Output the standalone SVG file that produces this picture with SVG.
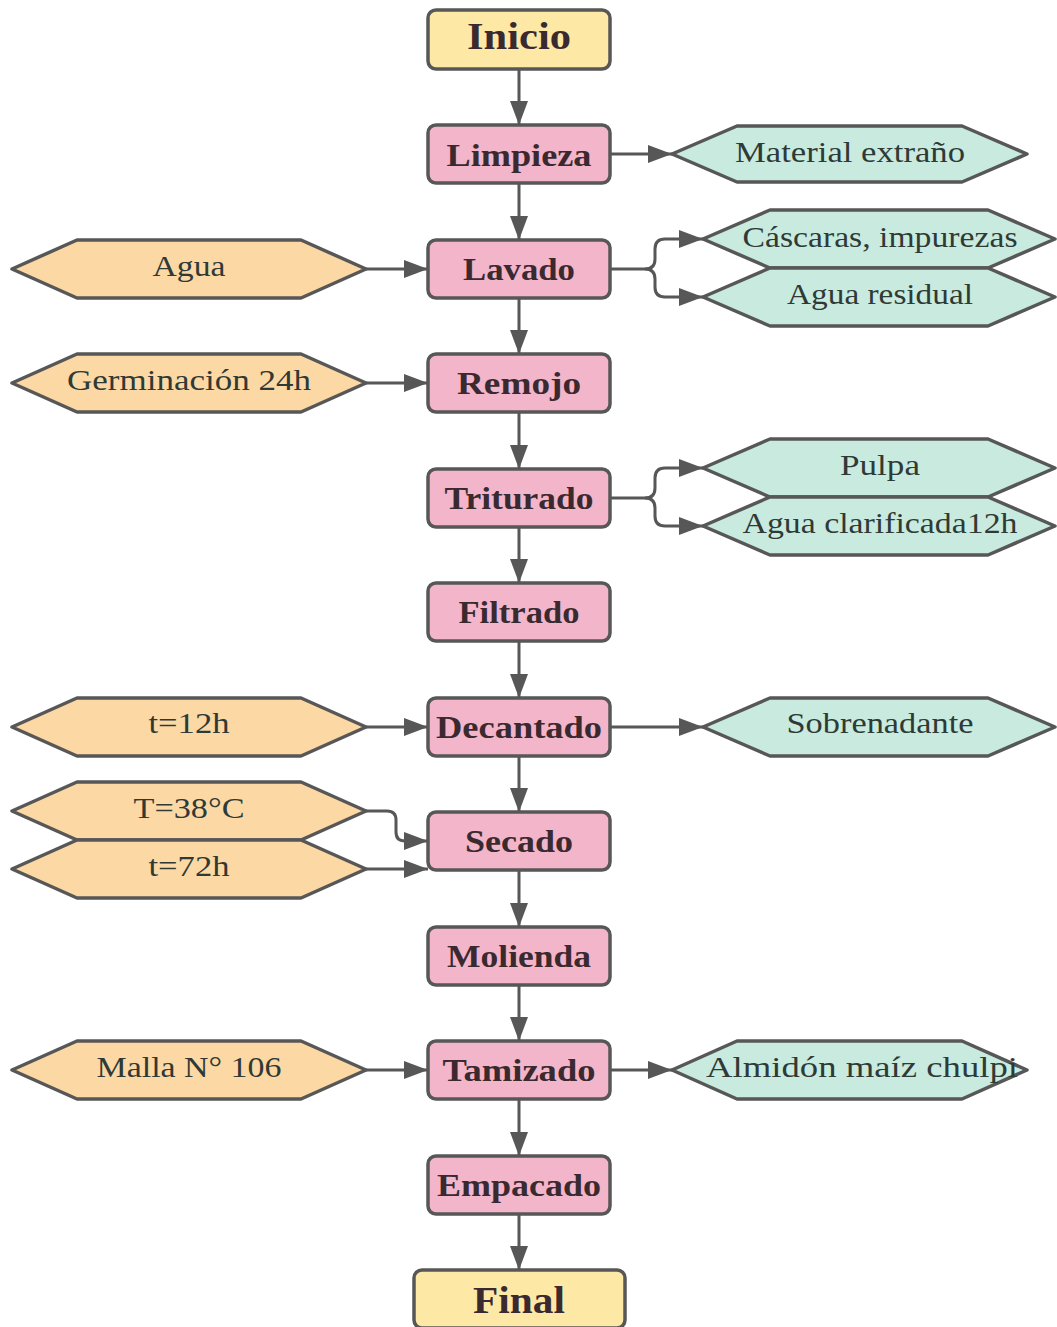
<svg xmlns="http://www.w3.org/2000/svg" width="1057" height="1327" viewBox="0 0 1057 1327">
<style>
.box{stroke:#575757;stroke-width:3.5}
.term{fill:#fde8a6}
.proc{fill:#f3b5c9}
.in{fill:#fcd8a4;stroke:#575757;stroke-width:3.5;stroke-linejoin:round}
.out{fill:#c8eadf;stroke:#575757;stroke-width:3.5;stroke-linejoin:round}
.bl{font-family:"Liberation Serif",serif;font-weight:bold;font-size:31px;fill:#3a2a30;text-anchor:middle}
.tl{font-family:"Liberation Serif",serif;font-weight:bold;font-size:37px;fill:#3a2a30;text-anchor:middle}
.rl{font-family:"Liberation Serif",serif;font-size:29px;fill:#2f3a36;text-anchor:middle}
.c{fill:none;stroke:#575757;stroke-width:3}
</style>
<defs>
<marker id="ah" markerUnits="userSpaceOnUse" markerWidth="24" markerHeight="18" refX="24" refY="9" orient="auto">
<path d="M0,0 L24,9 L0,18 z" fill="#575757"/>
</marker>
</defs>
<g id="connectors">
<path class="c" marker-end="url(#ah)" d="M519,69 V125"/>
<path class="c" marker-end="url(#ah)" d="M519,183 V240"/>
<path class="c" marker-end="url(#ah)" d="M519,298 V354"/>
<path class="c" marker-end="url(#ah)" d="M519,412 V469"/>
<path class="c" marker-end="url(#ah)" d="M519,527 V583"/>
<path class="c" marker-end="url(#ah)" d="M519,641 V698"/>
<path class="c" marker-end="url(#ah)" d="M519,756 V812"/>
<path class="c" marker-end="url(#ah)" d="M519,870 V927"/>
<path class="c" marker-end="url(#ah)" d="M519,985 V1041"/>
<path class="c" marker-end="url(#ah)" d="M519,1099 V1156"/>
<path class="c" marker-end="url(#ah)" d="M519,1214 V1270"/>
<path class="c" marker-end="url(#ah)" d="M610,154 H672"/>
<path class="c" marker-end="url(#ah)" d="M366,269 H428"/>
<path class="c" marker-end="url(#ah)" d="M610,269 H645 Q655,269 655,259 V249 Q655,239 665,239 H703"/>
<path class="c" marker-end="url(#ah)" d="M645,269 Q655,269 655,279 V287 Q655,297 665,297 H703"/>
<path class="c" marker-end="url(#ah)" d="M366,383 H428"/>
<path class="c" marker-end="url(#ah)" d="M610,498 H645 Q655,498 655,488 V478 Q655,468 665,468 H703"/>
<path class="c" marker-end="url(#ah)" d="M645,498 Q655,498 655,508 V516 Q655,526 665,526 H703"/>
<path class="c" marker-end="url(#ah)" d="M366,727 H428"/>
<path class="c" marker-end="url(#ah)" d="M610,727 H703"/>
<path class="c" marker-end="url(#ah)" d="M366,811 H387 Q396,811 396,820 V832 Q396,841 405,841 H428"/>
<path class="c" marker-end="url(#ah)" d="M366,869 H428"/>
<path class="c" marker-end="url(#ah)" d="M366,1070 H428"/>
<path class="c" marker-end="url(#ah)" d="M610,1070 H672"/>
</g>
<g id="inicio"><rect class="box term" x="428" y="10" width="182" height="59" rx="8"/><text class="tl" x="519" y="49" textLength="104" lengthAdjust="spacingAndGlyphs">Inicio</text></g>
<g id="limpieza"><rect class="box proc" x="428" y="125" width="182" height="58" rx="8"/><text class="bl" x="519" y="166" textLength="145" lengthAdjust="spacingAndGlyphs">Limpieza</text></g>
<g id="lavado"><rect class="box proc" x="428" y="240" width="182" height="58" rx="8"/><text class="bl" x="519" y="280" textLength="112" lengthAdjust="spacingAndGlyphs">Lavado</text></g>
<g id="remojo"><rect class="box proc" x="428" y="354" width="182" height="58" rx="8"/><text class="bl" x="519" y="394" textLength="124" lengthAdjust="spacingAndGlyphs">Remojo</text></g>
<g id="triturado"><rect class="box proc" x="428" y="469" width="182" height="58" rx="8"/><text class="bl" x="519" y="509" textLength="149" lengthAdjust="spacingAndGlyphs">Triturado</text></g>
<g id="filtrado"><rect class="box proc" x="428" y="583" width="182" height="58" rx="8"/><text class="bl" x="519" y="623" textLength="121" lengthAdjust="spacingAndGlyphs">Filtrado</text></g>
<g id="decantado"><rect class="box proc" x="428" y="698" width="182" height="58" rx="8"/><text class="bl" x="519" y="738" textLength="166" lengthAdjust="spacingAndGlyphs">Decantado</text></g>
<g id="secado"><rect class="box proc" x="428" y="812" width="182" height="58" rx="8"/><text class="bl" x="519" y="852" textLength="108" lengthAdjust="spacingAndGlyphs">Secado</text></g>
<g id="molienda"><rect class="box proc" x="428" y="927" width="182" height="58" rx="8"/><text class="bl" x="519" y="967" textLength="144" lengthAdjust="spacingAndGlyphs">Molienda</text></g>
<g id="tamizado"><rect class="box proc" x="428" y="1041" width="182" height="58" rx="8"/><text class="bl" x="519" y="1081" textLength="153" lengthAdjust="spacingAndGlyphs">Tamizado</text></g>
<g id="empacado"><rect class="box proc" x="428" y="1156" width="182" height="58" rx="8"/><text class="bl" x="519" y="1196" textLength="164" lengthAdjust="spacingAndGlyphs">Empacado</text></g>
<g id="final"><rect class="box term" x="414" y="1270" width="211" height="58" rx="8"/><text class="tl" x="519" y="1313" textLength="92" lengthAdjust="spacingAndGlyphs">Final</text></g>
<g id="material-extrano"><polygon class="out" points="672,154 737,126 962,126 1027,154 962,182 737,182"/><text class="rl" x="850" y="162" textLength="230" lengthAdjust="spacingAndGlyphs">Material extraño</text></g>
<g id="agua"><polygon class="in" points="12,269 77,240 301,240 366,269 301,298 77,298"/><text class="rl" x="189" y="276" textLength="73" lengthAdjust="spacingAndGlyphs">Agua</text></g>
<g id="cascaras"><polygon class="out" points="703,239 770,210 988,210 1055,239 988,268 770,268"/><text class="rl" x="880" y="247" textLength="275" lengthAdjust="spacingAndGlyphs">Cáscaras, impurezas</text></g>
<g id="agua-residual"><polygon class="out" points="703,297 770,268 988,268 1055,297 988,326 770,326"/><text class="rl" x="880" y="304" textLength="186" lengthAdjust="spacingAndGlyphs">Agua residual</text></g>
<g id="germinacion"><polygon class="in" points="12,383 77,354 301,354 366,383 301,412 77,412"/><text class="rl" x="189" y="390" textLength="244" lengthAdjust="spacingAndGlyphs">Germinación 24h</text></g>
<g id="pulpa"><polygon class="out" points="703,468 770,439 988,439 1055,468 988,497 770,497"/><text class="rl" x="880" y="475" textLength="80" lengthAdjust="spacingAndGlyphs">Pulpa</text></g>
<g id="agua-clarificada"><polygon class="out" points="703,526 770,497 988,497 1055,526 988,555 770,555"/><text class="rl" x="880" y="533" textLength="275" lengthAdjust="spacingAndGlyphs">Agua clarificada12h</text></g>
<g id="t12"><polygon class="in" points="12,727 77,698 301,698 366,727 301,756 77,756"/><text class="rl" x="189" y="733" textLength="81" lengthAdjust="spacingAndGlyphs">t=12h</text></g>
<g id="sobrenadante"><polygon class="out" points="703,727 770,698 988,698 1055,727 988,756 770,756"/><text class="rl" x="880" y="733" textLength="187" lengthAdjust="spacingAndGlyphs">Sobrenadante</text></g>
<g id="T38"><polygon class="in" points="12,811 77,782 301,782 366,811 301,840 77,840"/><text class="rl" x="189" y="818" textLength="111" lengthAdjust="spacingAndGlyphs">T=38°C</text></g>
<g id="t72"><polygon class="in" points="12,869 77,840 301,840 366,869 301,898 77,898"/><text class="rl" x="189" y="876" textLength="81" lengthAdjust="spacingAndGlyphs">t=72h</text></g>
<g id="malla"><polygon class="in" points="12,1070 77,1041 301,1041 366,1070 301,1099 77,1099"/><text class="rl" x="189" y="1077" textLength="185" lengthAdjust="spacingAndGlyphs">Malla N° 106</text></g>
<g id="almidon"><polygon class="out" points="672,1070 737,1041 962,1041 1027,1070 962,1099 737,1099"/><text class="rl" x="862" y="1077" textLength="312" lengthAdjust="spacingAndGlyphs">Almidón maíz chulpi</text></g>
</svg>
